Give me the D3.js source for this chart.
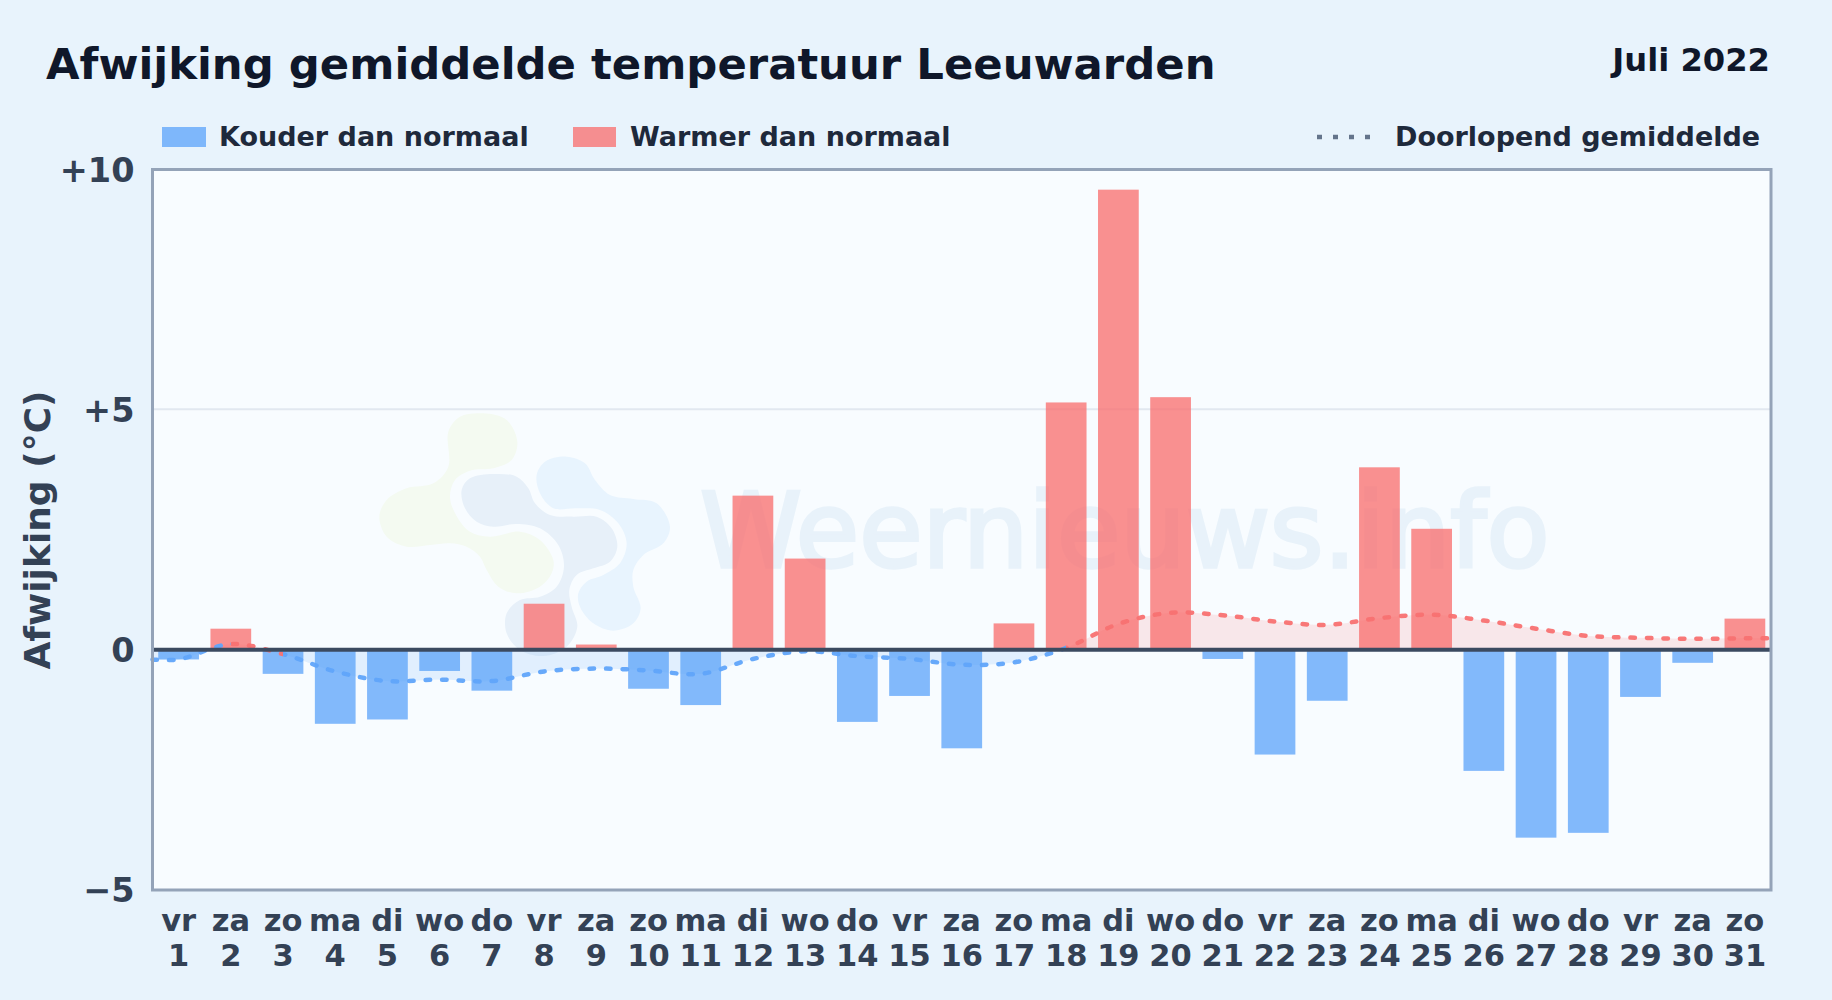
<!DOCTYPE html>
<html><head><meta charset="utf-8">
<script src="https://cdn.jsdelivr.net/npm/d3@7/dist/d3.min.js"></script>
<style>html,body{margin:0;padding:0;background:#e8f3fc}svg{display:block}text{font-family:"DejaVu Sans";font-weight:700}</style>
</head><body><svg id="c" width="1832" height="1000"></svg>
<script>
const weekdays=["vr","za","zo","ma","di","wo","do","vr","za","zo","ma","di","wo","do","vr","za","zo","ma","di","wo","do","vr","za","zo","ma","di","wo","do","vr","za","zo"];
const days=d3.range(1,32);
const deviations=[-0.2,0.44,-0.5,-1.54,-1.45,-0.44,-0.85,0.96,0.11,-0.81,-1.15,3.21,1.9,-1.5,-0.96,-2.05,0.55,5.15,9.58,5.26,-0.19,-2.18,-1.06,3.8,2.52,-2.52,-3.91,-3.81,-0.98,-0.27,0.65];
const runningMean=[-0.2,0.12,-0.09,-0.45,-0.65,-0.62,-0.65,-0.45,-0.39,-0.43,-0.5,-0.19,-0.03,-0.13,-0.19,-0.31,-0.26,0.04,0.54,0.77,0.72,0.59,0.52,0.66,0.73,0.61,0.44,0.29,0.25,0.23,0.24];
const yTicks=[-5,0,5,10];
const yTickLabels=["−5","0","+5","+10"];
const legendCold="Kouder dan normaal",legendWarm="Warmer dan normaal",legendLine="Doorlopend gemiddelde";

const blue="#60a5fa",red="#f87171";
const L=152.5,R=1771,T=169.5,B=890;
const svg=d3.select("#c");
const x=d3.scaleBand().domain(days).range([L,R]).paddingInner(0.22).paddingOuter(0.11);
const xc=d=>x(d)+x.bandwidth()/2;
const y=d3.scaleLinear().domain([-5,10]).range([B,T]);

svg.append("rect").attr("width",1832).attr("height",1000).attr("fill","#e8f3fc");
svg.append("rect").attr("x",L).attr("y",T).attr("width",R-L).attr("height",B-T).attr("fill","#f8fcff");

// watermark logo (decoration)
const logoGreen=[[235,95],[270,50],[340,40],[410,60],[442,125],[425,180],[370,205],[300,212],[255,240],[240,290],[258,345],[300,395],[360,410],[450,395],[510,420],[550,480],[545,520],[510,560],[440,580],[385,560],[350,510],[330,470],[290,440],[240,430],[180,435],[110,440],[50,410],[28,350],[50,300],[110,265],[190,250],[235,200]];
const logoDark=[[275,270],[300,235],[370,222],[440,230],[475,265],[495,310],[540,345],[610,350],[680,350],[725,385],[742,440],[720,485],[670,505],[620,525],[598,570],[605,620],[622,680],[590,740],[520,768],[450,750],[410,700],[410,640],[450,600],[510,590],[560,560],[582,500],[565,435],[510,385],[440,372],[370,380],[320,365],[285,325]];
const logoLight=[[500,225],[525,185],[590,170],[645,190],[675,240],[720,285],[790,297],[860,310],[900,380],[880,430],[820,465],[790,510],[790,560],[812,625],[790,670],[730,692],[670,670],[630,620],[625,580],[650,545],[700,525],[750,490],[770,430],[745,370],[690,330],[620,325],[550,325],[510,280]];
const wm=svg.append("g");
const blob=d3.line().curve(d3.curveCatmullRomClosed.alpha(0.5));
const logo=wm.append("g").attr("transform","translate(370,400) scale(0.3333)");
logo.append("path").attr("d",blob(logoGreen)).attr("fill","#f4faf1");
logo.append("path").attr("d",blob(logoDark)).attr("fill","#e7f0f9");
logo.append("path").attr("d",blob(logoLight)).attr("fill","#e8f4fe");
wm.append("text").attr("x",700).attr("y",567).attr("font-size",103).style("font-weight",400).attr("fill","#e8f2fa").attr("stroke","#e8f2fa").attr("stroke-width",3.5).text("Weernieuws.info");

// grid
svg.append("line").attr("x1",L).attr("x2",R).attr("y1",y(5)-0.5).attr("y2",y(5)-0.5).attr("stroke","#e2e8f0").attr("stroke-width",2);

// bars
svg.append("g").selectAll("rect").data(days).join("rect")
 .attr("x",d=>x(d)).attr("width",x.bandwidth())
 .attr("y",(d,i)=>y(Math.max(0,deviations[i])))
 .attr("height",(d,i)=>Math.abs(y(deviations[i])-y(0)))
 .attr("fill",(d,i)=>deviations[i]>=0?red:blue).attr("fill-opacity",0.78);

// running mean: extends to plot edges
const pts=days.map((d,i)=>[xc(d),y(runningMean[i])]);
pts.unshift([L,y(runningMean[0])]);pts.push([R,y(runningMean[30])]);
const defs=svg.append("defs");
defs.append("clipPath").attr("id","above").append("rect").attr("x",L).attr("y",T).attr("width",R-L).attr("height",y(0)-T);
defs.append("clipPath").attr("id","below").append("rect").attr("x",L).attr("y",y(0)).attr("width",R-L).attr("height",B-y(0));
const curve=d3.curveCatmullRom.alpha(0.5);
const area=d3.area().x(d=>d[0]).y0(y(0)).y1(d=>d[1]).curve(curve);
svg.append("path").attr("d",area(pts)).attr("fill",red).attr("fill-opacity",0.15).attr("clip-path","url(#above)");
svg.append("path").attr("d",area(pts)).attr("fill",blue).attr("fill-opacity",0.15).attr("clip-path","url(#below)");

const grad=defs.append("linearGradient").attr("id","lineGrad").attr("gradientUnits","userSpaceOnUse").attr("x1",L).attr("x2",R).attr("y1",0).attr("y2",0);
const W=R-L;
runningMean.forEach((v,i)=>{
  const c=v>=0?red:blue, end=i<30?(xc(days[i+1])-L)/W:1, start=i===0?0:(xc(days[i])-L)/W;
  grad.append("stop").attr("offset",start).attr("stop-color",c);
  grad.append("stop").attr("offset",end).attr("stop-color",c);
});
svg.append("path").attr("d",d3.line().curve(curve)(pts)).attr("fill","none").attr("stroke","url(#lineGrad)")
 .attr("stroke-width",4.5).attr("stroke-dasharray","4.5 12").attr("stroke-linecap","round").attr("stroke-opacity",0.95);

// zero line and frame
svg.append("line").attr("x1",L).attr("x2",R).attr("y1",y(0)).attr("y2",y(0)).attr("stroke","#3b4a60").attr("stroke-width",4);
svg.append("rect").attr("x",L).attr("y",T).attr("width",R-L).attr("height",B-T).attr("fill","none").attr("stroke","#94a3b8").attr("stroke-width",3);

// y axis
const gy=svg.append("g").attr("transform",`translate(${L},0)`).call(d3.axisLeft(y).tickValues(yTicks).tickSize(0).tickPadding(18).tickFormat((d,i)=>yTickLabels[i]));
gy.select(".domain").remove();
gy.selectAll("text").attr("font-size",33.5).attr("fill","#334155").attr("dy","0.35em").style("font-family","DejaVu Sans").style("font-weight",700);
// x axis
const gx=svg.append("g").selectAll("g").data(days).join("g");
gx.append("text").attr("x",d=>xc(d)).attr("y",931).attr("text-anchor","middle").attr("font-size",30.5).attr("fill","#334155").text((d,i)=>weekdays[i]);
gx.append("text").attr("x",d=>xc(d)).attr("y",966).attr("text-anchor","middle").attr("font-size",30.5).attr("fill","#334155").text(d=>d);
svg.append("text").attr("transform","translate(50,530) rotate(-90)").attr("text-anchor","middle").attr("font-size",36).attr("fill","#334155").text("Afwijking (°C)");

// titles
svg.append("text").attr("x",46).attr("y",79).attr("font-size",43.35).attr("fill","#0f172a").text("Afwijking gemiddelde temperatuur Leeuwarden");
svg.append("text").attr("x",1770).attr("y",70.5).attr("text-anchor","end").attr("font-size",32.2).attr("fill","#0f172a").text("Juli 2022");

// legend
const lg=svg.append("g");
lg.append("rect").attr("x",162).attr("y",127).attr("width",44).attr("height",20).attr("fill",blue).attr("fill-opacity",0.78);
lg.append("text").attr("x",219).attr("y",146).attr("font-size",27).attr("fill","#1e293b").text(legendCold);
lg.append("rect").attr("x",573).attr("y",127).attr("width",43).attr("height",20).attr("fill",red).attr("fill-opacity",0.78);
lg.append("text").attr("x",630).attr("y",146).attr("font-size",27).attr("fill","#1e293b").text(legendWarm);
lg.append("line").attr("x1",1317).attr("x2",1375).attr("y1",137).attr("y2",137).attr("stroke","#64748b").attr("stroke-width",4.5).attr("stroke-dasharray","5 11");
lg.append("text").attr("x",1395).attr("y",146).attr("font-size",27).attr("fill","#1e293b").text(legendLine);
</script></body></html>
